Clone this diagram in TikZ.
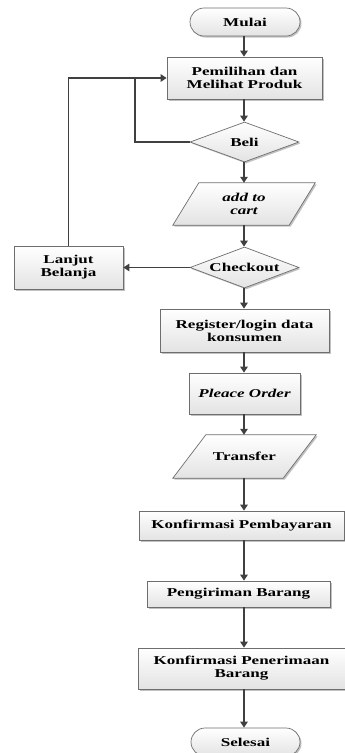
\documentclass[tikz,border=0pt]{standalone}
\usepackage{fontspec}
\setmainfont{Liberation Serif}[FakeStretch=1.42]
\usetikzlibrary{shapes.geometric,shapes.misc,shadows,calc,arrows.meta}

\definecolor{linegray}{HTML}{404040}
\definecolor{edgegray}{HTML}{6E6E6E}

\tikzset{
  every node/.style={font=\bfseries\fontsize{12}{13}\selectfont, align=center, inner sep=0pt},
  shapefill/.style={draw=edgegray, line width=0.7pt, top color=white, bottom color=gray!22,
    drop shadow={shadow xshift=1.5pt, shadow yshift=-1.5pt, fill=gray!60, opacity=0.8}},
  process/.style={rectangle, shapefill},
  term/.style={rounded rectangle, shapefill, minimum width=110pt, minimum height=28pt},
  decision/.style={diamond, aspect=2.7, shapefill, minimum width=109pt, minimum height=40pt},
  iobox/.style={rectangle},
  flow/.style={draw=linegray, line width=1.3pt, -{Triangle[width=7.5pt,length=6pt]}},
  plain/.style={draw=linegray, line width=1.3pt},
}

\begin{document}
\begin{tikzpicture}[x=1pt,y=-1pt]
  \useasboundingbox (0,0) rectangle (345,753);

  % main column and the two loop-back lanes
  \coordinate (spine) at (244,0);
  \coordinate (inner) at (135,0);

  % nodes
  \node[term] (mulai) at (245,22) {Mulai};
  \node[process, minimum width=155pt, minimum height=42pt] (pilih) at (244.5,78) {Pemilihan dan\\Melihat Produk};
  \node[decision] (beli) at (244.5,142) {Beli};
  \node[iobox, minimum width=142pt, minimum height=42pt] (cart) at (244,204) {};
  \node[decision, minimum height=41pt] (checkout) at (244.5,267.5) {Checkout};
  \node[process, minimum width=109pt, minimum height=43pt] (lanjut) at (68.5,267.5) {Lanjut\\Belanja};
  \node[process, minimum width=169pt, minimum height=43pt] (register) at (244.5,330.5) {Register/login data\\konsumen};
  \node[process, minimum width=111pt, minimum height=41pt] (order) at (244.5,393.5) {\itshape Pleace Order};
  \node[iobox, minimum width=143pt, minimum height=43pt] (transfer) at (244.5,456.5) {};
  \node[process, minimum width=205pt, minimum height=29pt] (bayar) at (241.5,525.5) {Konfirmasi Pembayaran};
  \node[process, minimum width=183pt, minimum height=26pt] (kirim) at (238.5,594) {Pengiriman Barang};
  \node[process, minimum width=207pt, minimum height=41pt] (terima) at (241.5,668.5) {Konfirmasi Penerimaan\\Barang};
  \node[term, minimum width=109pt] (selesai) at (245.5,742) {Selesai};

  % input/output parallelograms
  \draw[shapefill] ($(cart.north west)+(26,0)$) -- (cart.north east) -- ($(cart.south east)+(-26,0)$) -- (cart.south west) -- cycle;
  \node at (cart) {\itshape add to\\\itshape cart};
  \draw[shapefill] ($(transfer.north west)+(33,0)$) -- (transfer.north east) -- ($(transfer.south east)+(-33,0)$) -- (transfer.south west) -- cycle;
  \node at (transfer) {Transfer};

  % main flow
  \draw[flow] (mulai.south -| spine) -- (pilih.north -| spine);
  \draw[flow] (pilih.south -| spine) -- (beli.north -| spine);
  \draw[flow] (beli.south -| spine) -- (cart.north -| spine);
  \draw[flow] (cart.south -| spine) -- (checkout.north -| spine);
  \draw[flow] (checkout.south -| spine) -- (register.north -| spine);
  \draw[flow] (register.south -| spine) -- (order.north -| spine);
  \draw[flow] (order.south -| spine) -- (transfer.north -| spine);
  \draw[flow] (transfer.south -| spine) -- (bayar.north -| spine);
  \draw[flow] (bayar.south -| spine) -- (kirim.north -| spine);
  \draw[flow] (kirim.south -| spine) -- (terima.north -| spine);
  \draw[flow] (terima.south -| spine) -- (selesai.north -| spine);

  % loops back to product selection
  \draw[flow] (beli.west) -- (beli.west -| inner) |- (pilih.west);
  \draw[plain] (lanjut.north) |- (pilih.west -| inner);
  \draw[flow] (checkout.west) -- (lanjut.east);
\end{tikzpicture}
\end{document}
